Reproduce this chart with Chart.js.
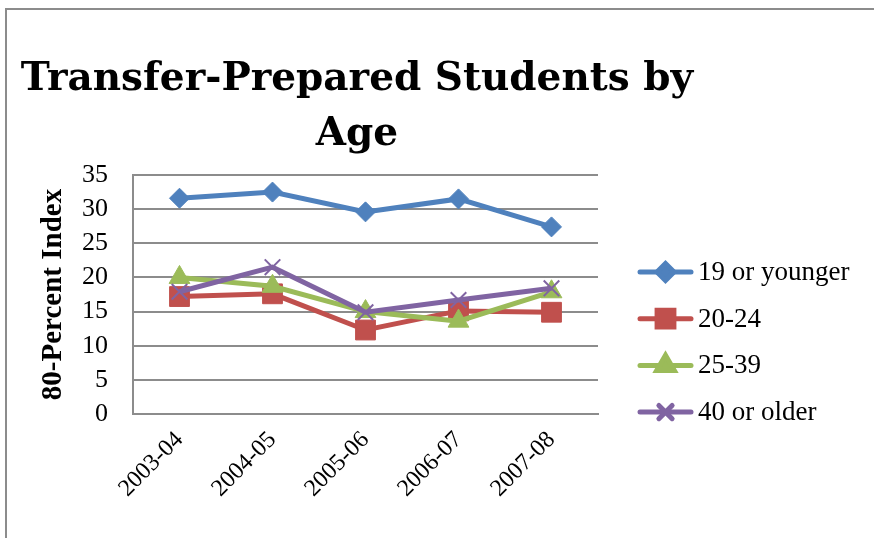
<!DOCTYPE html>
<html>
<head>
<meta charset="utf-8">
<script src="https://cdn.jsdelivr.net/npm/chart.js@4.4.1/dist/chart.umd.min.js"></script>
<style>
  html, body { margin: 0; padding: 0; background: #fff; }
  #wrap { position: relative; width: 874px; height: 538px; overflow: hidden; }
  #frame { position: absolute; left: 5px; top: 8px; width: 1000px; height: 1000px;
           border-top: 2px solid #8c8c8c; border-left: 2px solid #8c8c8c; }
  #chart { position: absolute; left: 0; top: 0; }
</style>
</head>
<body>
<div id="wrap">
  <div id="frame"></div>
  <canvas id="chart" width="874" height="538"></canvas>
</div>
<script>
const years = ['2003-04', '2004-05', '2005-06', '2006-07', '2007-08'];
const seriesNames = ['19 or younger', '20-24', '25-39', '40 or older'];
const young = [31.6, 32.5, 29.6, 31.5, 27.4];
const age2024 = [17.2, 17.6, 12.3, 15.1, 14.9];
const age2539 = [20.0, 18.7, 15.0, 13.6, 17.9];
const older = [17.9, 21.5, 14.9, 16.7, 18.4];
const titleLines = ['Transfer-Prepared Students by', 'Age'];
const yTitle = '80-Percent Index';

const colors = ['#4f81bd', '#c0504d', '#9bbb59', '#8064a2'];
const styles = [
  { pointStyle: 'rectRot', radius: 10 },
  { pointStyle: 'rect', radius: 14 },
  { pointStyle: 'triangle', radius: 12 },
  { pointStyle: 'crossRot', radius: 11 }
];
const values = [young, age2024, age2539, older];

const serif = '"Liberation Serif", "Times New Roman", serif';

// title drawn off-centre like the original
const titlePlugin = {
  id: 'sheetTitle',
  afterDraw(chart) {
    const ctx = chart.ctx;
    ctx.save();
    ctx.fillStyle = '#000';
    ctx.font = 'bold 39px "DejaVu Serif", serif';
    ctx.textAlign = 'center';
    ctx.textBaseline = 'alphabetic';
    ctx.fillText(titleLines[0], 357, 90);
    ctx.fillText(titleLines[1], 357, 145);
    ctx.restore();
  }
};

// legend with line + marker like Excel
const legendPlugin = {
  id: 'sheetLegend',
  afterDraw(chart) {
    const ctx = chart.ctx;
    ctx.save();
    seriesNames.forEach((name, i) => {
      const y = 272 + i * 46.7;
      ctx.strokeStyle = colors[i];
      ctx.lineWidth = 5;
      ctx.lineCap = 'round';
      ctx.beginPath();
      ctx.moveTo(640, y);
      ctx.lineTo(691, y);
      ctx.stroke();
      ctx.fillStyle = colors[i];
      Chart.helpers.drawPoint(ctx, {
        pointStyle: styles[i].pointStyle,
        radius: styles[i].radius * 0.85,
        borderWidth: i === 3 ? 2 : 1,
        rotation: 0
      }, 665.5, y);
      ctx.fillStyle = '#000';
      ctx.font = '27px ' + serif;
      ctx.textAlign = 'left';
      ctx.textBaseline = 'middle';
      ctx.fillText(name, 698, y + 1);
    });
    ctx.restore();
  }
};

const datasets = values.map((v, i) => ({
  label: seriesNames[i],
  data: v,
  borderColor: colors[i],
  backgroundColor: colors[i],
  pointBackgroundColor: colors[i],
  pointBorderColor: colors[i],
  pointBorderWidth: i === 3 ? 2 : 1,
  borderWidth: 5,
  pointStyle: styles[i].pointStyle,
  pointRadius: styles[i].radius,
  pointHoverRadius: styles[i].radius,
  tension: 0,
  order: 3 - i
}));

new Chart(document.getElementById('chart'), {
  type: 'line',
  data: { labels: years, datasets: datasets },
  options: {
    responsive: false,
    animation: false,
    layout: { padding: { top: 175, right: 276, bottom: 0, left: 0 } },
    plugins: {
      legend: { display: false },
      title: { display: false },
      tooltip: { enabled: false }
    },
    scales: {
      x: {
        offset: true,
        grid: { display: false, drawTicks: false },
        border: { display: true, color: '#8c8c8c', width: 2 },
        ticks: {
          color: '#000',
          font: { family: serif, size: 24 },
          maxRotation: 45,
          minRotation: 45,
          autoSkip: false,
          padding: 12
        },
        afterFit(scale) { scale.height = 124; }
      },
      y: {
        min: 0,
        max: 35,
        grid: { color: '#8c8c8c', lineWidth: 2, drawTicks: false },
        border: { display: true, color: '#8c8c8c', width: 2 },
        ticks: {
          stepSize: 5,
          autoSkip: false,
          color: '#000',
          font: { family: serif, size: 26 },
          padding: 25
        },
        title: {
          display: true,
          text: yTitle,
          color: '#000',
          font: { family: serif, size: 29, weight: 'bold' },
          padding: { top: 36, bottom: 0 }
        },
        afterFit(scale) { scale.width = 133; }
      }
    }
  },
  plugins: [titlePlugin, legendPlugin]
});
</script>
</body>
</html>
